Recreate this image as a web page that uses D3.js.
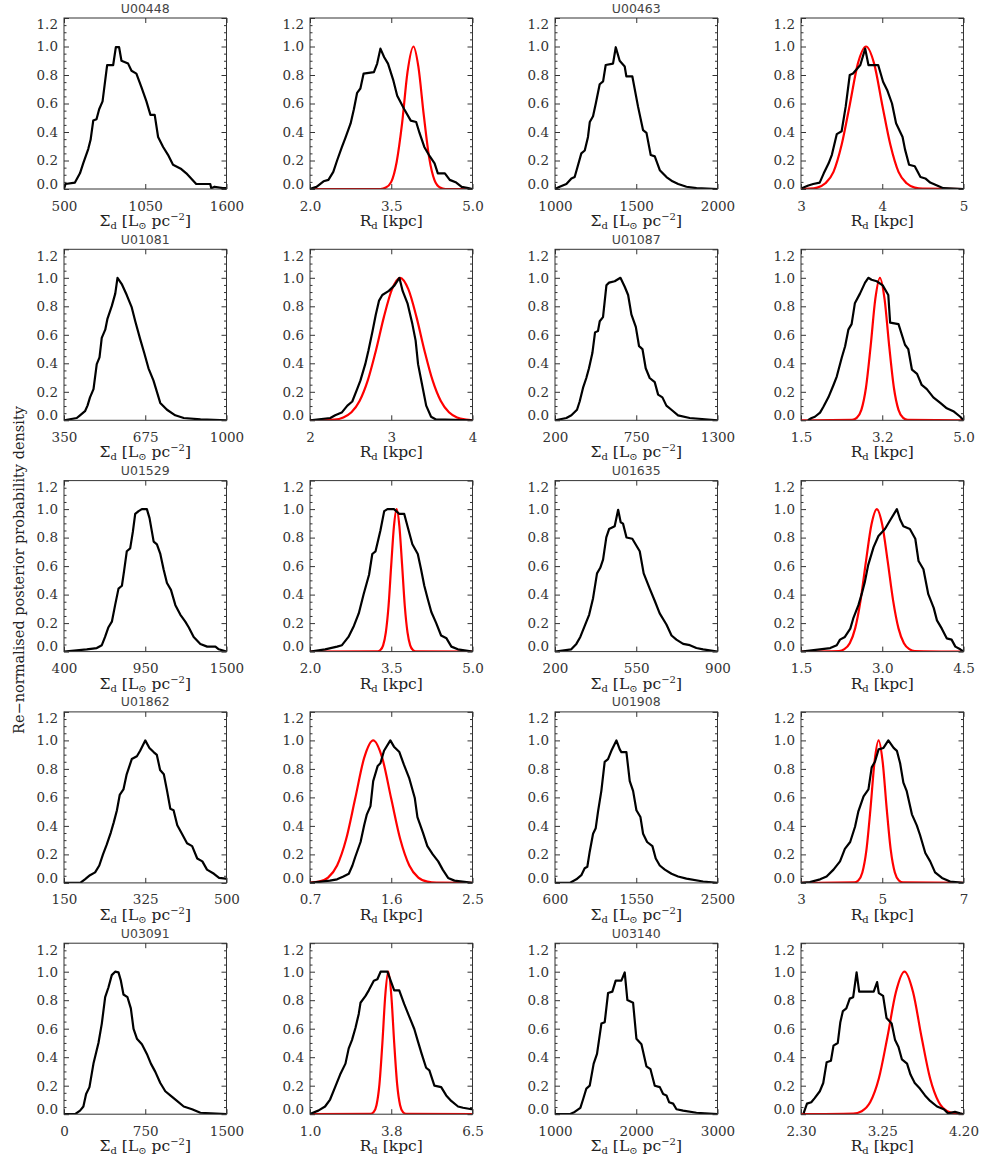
<!DOCTYPE html>
<html>
<head>
<meta charset="utf-8">
<script src="https://cdn.jsdelivr.net/npm/d3@7"></script>
<style>
  body { margin: 0; background: #fff; }
  svg { display: block; }
</style>
</head>
<body>
<div id="chart"></div>
<script>
// galaxies, one per row (Sigma_d panel + R_d panel)
const galaxies = ["U00448", "U00463", "U01081", "U01087", "U01529", "U01635", "U01862", "U01908", "U03091", "U03140"];

const sigmaDomains = [[500, 1600], [1000, 2000], [350, 1000], [200, 1300], [400, 1500], [200, 900], [150, 500], [600, 2500], [0, 1500], [1000, 3000]];
const sigmaTicks = [[500, 1050, 1600], [1000, 1500, 2000], [350, 675, 1000], [200, 750, 1300], [400, 950, 1500], [200, 550, 900], [150, 325, 500], [600, 1550, 2500], [0, 750, 1500], [1000, 2000, 3000]];
const sigmaTickLabels = [["500", "1050", "1600"], ["1000", "1500", "2000"], ["350", "675", "1000"], ["200", "750", "1300"], ["400", "950", "1500"], ["200", "550", "900"], ["150", "325", "500"], ["600", "1550", "2500"], ["0", "750", "1500"], ["1000", "2000", "3000"]];

const rdDomains = [[2, 5], [3, 5], [2, 4], [1.5, 5], [2, 5], [1.5, 4.5], [0.7, 2.5], [3, 7], [1, 6.5], [2.3, 4.2]];
const rdTicks = [[2, 3.5, 5], [3, 4, 5], [2, 3, 4], [1.5, 3.25, 5], [2, 3.5, 5], [1.5, 3, 4.5], [0.7, 1.6, 2.5], [3, 5, 7], [1, 3.75, 6.5], [2.3, 3.25, 4.2]];
const rdTickLabels = [["2.0", "3.5", "5.0"], ["3", "4", "5"], ["2", "3", "4"], ["1.5", "3.2", "5.0"], ["2.0", "3.5", "5.0"], ["1.5", "3.0", "4.5"], ["0.7", "1.6", "2.5"], ["3", "5", "7"], ["1.0", "3.8", "6.5"], ["2.30", "3.25", "4.20"]];

const yMajor = [0, 0.2, 0.4, 0.6, 0.8, 1.0, 1.2];
const yMinor = [0.05, 0.1, 0.15, 0.25, 0.3, 0.35, 0.45, 0.5, 0.55, 0.65, 0.7, 0.75, 0.85, 0.9, 0.95, 1.05, 1.1, 1.15];

// posterior of Sigma_d (black)
const sigU00448 = [[500,0],[510,0.035],[574,0.045],[608,0.11],[630,0.18],[664,0.28],[680,0.345],[698,0.48],[720,0.49],[738,0.56],[761,0.615],[792,0.87],[833,0.87],[851,0.995],[873,0.995],[889,0.9],[934,0.88],[957,0.83],[990,0.81],[1024,0.715],[1058,0.615],[1085,0.52],[1114,0.52],[1137,0.365],[1171,0.295],[1204,0.24],[1238,0.17],[1294,0.14],[1328,0.11],[1395,0.035],[1490,0.035],[1497,0.006],[1519,0.016],[1575,0.006],[1600,0.006]];
const sigU00463 = [[1000,0],[1029,0.016],[1070,0.035],[1101,0.074],[1121,0.084],[1135,0.14],[1162,0.25],[1183,0.27],[1203,0.365],[1214,0.47],[1234,0.51],[1251,0.6],[1275,0.735],[1296,0.755],[1312,0.87],[1357,0.88],[1374,0.995],[1398,0.9],[1429,0.86],[1439,0.79],[1476,0.79],[1511,0.578],[1542,0.413],[1563,0.394],[1589,0.239],[1614,0.229],[1645,0.132],[1686,0.084],[1723,0.054],[1758,0.035],[1809,0.016],[1871,0.006],[2000,0]];
const sigU01081 = [[350,0],[401,0.016],[414,0.035],[434,0.064],[444,0.103],[454,0.161],[468,0.219],[481,0.394],[492,0.442],[501,0.578],[515,0.636],[524,0.714],[541,0.801],[555,0.889],[564,1.0],[581,0.956],[601,0.879],[621,0.792],[635,0.695],[655,0.568],[671,0.472],[688,0.365],[708,0.278],[735,0.122],[762,0.074],[795,0.035],[829,0.016],[896,0.006],[1000,0]];
const sigU01087 = [[200,0],[277,0.016],[311,0.035],[349,0.074],[367,0.132],[390,0.229],[412,0.297],[430,0.365],[453,0.472],[471,0.617],[491,0.627],[503,0.695],[525,0.724],[548,0.947],[566,0.966],[604,0.976],[643,1.0],[672,0.937],[695,0.879],[717,0.743],[747,0.656],[769,0.52],[792,0.5],[814,0.365],[841,0.297],[875,0.268],[898,0.18],[927,0.161],[954,0.103],[988,0.074],[1033,0.035],[1112,0.016],[1300,0]];
const sigU01529 = [[400,0],[554,0.016],[622,0.025],[656,0.045],[678,0.103],[701,0.171],[724,0.21],[746,0.326],[769,0.442],[792,0.462],[807,0.568],[825,0.704],[848,0.724],[866,0.84],[882,0.966],[905,0.986],[927,1.0],[961,1.0],[979,0.937],[1007,0.772],[1029,0.753],[1052,0.685],[1074,0.578],[1097,0.481],[1124,0.433],[1154,0.326],[1188,0.258],[1221,0.21],[1244,0.171],[1278,0.103],[1323,0.054],[1369,0.035],[1425,0.035],[1448,0.016],[1500,0]];
const sigU01635 = [[200,0],[270,0.016],[292,0.054],[309,0.103],[328,0.18],[347,0.258],[364,0.375],[381,0.549],[395,0.588],[407,0.646],[421,0.801],[433,0.86],[457,0.879],[472,0.995],[483,0.908],[493,0.898],[508,0.801],[533,0.792],[565,0.704],[582,0.549],[608,0.442],[630,0.355],[651,0.268],[680,0.19],[702,0.113],[723,0.084],[752,0.054],[781,0.045],[809,0.025],[838,0.016],[900,0]];
const sigU01862 = [[150,0],[185,0],[195,0.025],[206,0.054],[217,0.074],[226,0.122],[234,0.2],[242,0.268],[251,0.355],[257,0.423],[264,0.51],[270,0.617],[278,0.656],[285,0.762],[296,0.869],[307,0.889],[314,0.927],[325,1.0],[334,0.947],[343,0.918],[350,0.898],[357,0.792],[365,0.762],[372,0.646],[379,0.52],[386,0.51],[394,0.404],[404,0.345],[415,0.278],[426,0.258],[437,0.171],[448,0.151],[458,0.093],[473,0.064],[484,0.035],[498,0.03],[500,0.03]];
const sigU01908 = [[600,0],[772,0],[850,0.025],[908,0.054],[947,0.103],[978,0.113],[1006,0.219],[1045,0.345],[1076,0.384],[1103,0.5],[1142,0.646],[1181,0.85],[1220,0.869],[1259,0.927],[1318,1.0],[1357,0.937],[1376,0.918],[1435,0.918],[1474,0.714],[1513,0.646],[1552,0.51],[1599,0.462],[1630,0.345],[1677,0.287],[1739,0.258],[1778,0.171],[1825,0.122],[1884,0.093],[1962,0.064],[2039,0.045],[2137,0.03],[2332,0.01],[2500,0]];
const sigU03091 = [[0,0],[102,0],[148,0.025],[179,0.054],[204,0.142],[235,0.19],[272,0.355],[318,0.5],[349,0.636],[380,0.821],[410,0.889],[441,0.976],[472,1.0],[503,0.995],[525,0.937],[549,0.84],[586,0.821],[617,0.743],[642,0.598],[673,0.53],[719,0.491],[765,0.423],[802,0.355],[843,0.297],[889,0.219],[935,0.161],[981,0.132],[1043,0.093],[1105,0.054],[1182,0.035],[1259,0.01],[1500,0]];
const sigU03140 = [[1000,0],[1181,0],[1242,0.016],[1312,0.045],[1345,0.103],[1386,0.18],[1427,0.2],[1476,0.355],[1517,0.423],[1571,0.636],[1612,0.646],[1653,0.85],[1706,0.86],[1747,0.937],[1817,0.937],[1858,0.995],[1891,0.801],[1961,0.782],[2002,0.53],[2064,0.491],[2125,0.336],[2175,0.316],[2228,0.2],[2290,0.19],[2331,0.142],[2372,0.132],[2404,0.084],[2454,0.074],[2495,0.035],[2577,0.025],[2741,0.01],[3000,0]];

// posterior of R_d (black)
const rdU00448 = [[2.0,0],[2.12,0.015],[2.25,0.054],[2.34,0.064],[2.43,0.12],[2.50,0.2],[2.59,0.295],[2.65,0.355],[2.75,0.46],[2.81,0.56],[2.87,0.675],[2.93,0.705],[2.99,0.81],[3.18,0.82],[3.24,0.88],[3.30,0.985],[3.37,0.925],[3.44,0.88],[3.54,0.76],[3.61,0.655],[3.74,0.56],[3.86,0.48],[3.96,0.47],[4.02,0.395],[4.11,0.295],[4.21,0.23],[4.30,0.18],[4.36,0.11],[4.49,0.11],[4.58,0.064],[4.70,0.045],[4.80,0.015],[4.92,0.006],[5.0,0]];
const rdU00463 = [[3.01,0.006],[3.09,0.025],[3.15,0.035],[3.23,0.045],[3.28,0.11],[3.34,0.18],[3.38,0.24],[3.44,0.385],[3.50,0.405],[3.55,0.578],[3.60,0.8],[3.64,0.81],[3.73,0.87],[3.79,0.985],[3.83,0.87],[3.95,0.87],[4.01,0.753],[4.06,0.695],[4.12,0.6],[4.17,0.462],[4.25,0.365],[4.28,0.278],[4.33,0.17],[4.40,0.16],[4.47,0.084],[4.53,0.074],[4.59,0.045],[4.71,0.016],[4.75,0.006],[5.0,0]];
const rdU01081 = [[2.0,0],[2.25,0.016],[2.31,0.035],[2.39,0.054],[2.46,0.103],[2.52,0.132],[2.58,0.219],[2.62,0.278],[2.68,0.394],[2.72,0.491],[2.77,0.627],[2.81,0.743],[2.85,0.84],[2.89,0.879],[2.97,0.908],[3.04,0.947],[3.10,1.0],[3.14,0.908],[3.20,0.821],[3.26,0.675],[3.30,0.559],[3.33,0.394],[3.37,0.278],[3.43,0.103],[3.49,0.025],[3.55,0.006],[4.0,0]];
const rdU01087 = [[1.65,0],[1.73,0.016],[1.80,0.025],[1.91,0.054],[1.98,0.093],[2.09,0.161],[2.20,0.248],[2.27,0.307],[2.38,0.442],[2.45,0.52],[2.52,0.636],[2.59,0.675],[2.66,0.821],[2.77,0.889],[2.88,0.966],[2.95,1.0],[3.02,0.986],[3.13,0.976],[3.26,0.947],[3.38,0.879],[3.42,0.685],[3.60,0.675],[3.74,0.53],[3.81,0.5],[3.89,0.355],[4.00,0.326],[4.10,0.248],[4.21,0.219],[4.35,0.161],[4.50,0.122],[4.64,0.084],[4.78,0.064],[4.93,0.025],[5.0,0]];
const rdU01529 = [[2.0,0],[2.28,0.016],[2.50,0.035],[2.59,0.045],[2.71,0.103],[2.81,0.18],[2.90,0.268],[2.99,0.403],[3.09,0.539],[3.15,0.685],[3.21,0.704],[3.30,0.85],[3.37,0.986],[3.43,1.0],[3.55,1.0],[3.65,0.966],[3.74,0.966],[3.80,0.879],[3.89,0.753],[3.99,0.685],[4.05,0.578],[4.11,0.462],[4.17,0.375],[4.24,0.278],[4.33,0.2],[4.42,0.113],[4.52,0.093],[4.61,0.035],[4.73,0.016],[5.0,0]];
const rdU01635 = [[1.5,0],[1.85,0.016],[2.04,0.025],[2.16,0.045],[2.22,0.084],[2.31,0.103],[2.41,0.161],[2.47,0.239],[2.56,0.326],[2.62,0.403],[2.68,0.491],[2.74,0.607],[2.84,0.733],[2.93,0.811],[3.05,0.86],[3.14,0.918],[3.27,1.0],[3.33,0.927],[3.39,0.879],[3.51,0.86],[3.61,0.792],[3.67,0.636],[3.76,0.578],[3.85,0.403],[3.95,0.307],[4.01,0.219],[4.10,0.161],[4.19,0.093],[4.28,0.084],[4.35,0.035],[4.44,0.016],[4.5,0]];
const rdU01862 = [[0.7,0],[0.92,0.016],[1.00,0.025],[1.07,0.045],[1.13,0.064],[1.17,0.122],[1.20,0.18],[1.26,0.287],[1.30,0.404],[1.33,0.481],[1.37,0.539],[1.40,0.714],[1.45,0.821],[1.48,0.84],[1.52,0.927],[1.59,1.0],[1.63,0.956],[1.69,0.918],[1.74,0.83],[1.80,0.733],[1.86,0.598],[1.89,0.462],[1.95,0.355],[2.00,0.258],[2.06,0.2],[2.12,0.151],[2.17,0.093],[2.23,0.035],[2.30,0.016],[2.5,0]];
const rdU01908 = [[3.0,0],[3.22,0.006],[3.47,0.025],[3.63,0.045],[3.80,0.093],[3.96,0.151],[4.08,0.239],[4.21,0.287],[4.33,0.394],[4.41,0.5],[4.54,0.607],[4.66,0.656],[4.74,0.811],[4.82,0.85],[4.91,0.937],[5.03,0.947],[5.15,1.0],[5.28,0.947],[5.36,0.927],[5.44,0.84],[5.52,0.704],[5.60,0.646],[5.73,0.481],[5.85,0.404],[5.93,0.336],[6.06,0.21],[6.18,0.151],[6.30,0.074],[6.47,0.035],[6.67,0.01],[7.0,0]];
const rdU03091 = [[1.0,0],[1.06,0.006],[1.28,0.025],[1.51,0.054],[1.68,0.103],[1.85,0.19],[2.02,0.278],[2.20,0.355],[2.31,0.462],[2.42,0.52],[2.54,0.607],[2.65,0.704],[2.71,0.782],[2.88,0.83],[2.99,0.869],[3.16,0.937],[3.28,0.947],[3.39,1.0],[3.62,1.0],[3.73,0.937],[3.85,0.869],[4.02,0.869],[4.19,0.772],[4.36,0.685],[4.53,0.598],[4.64,0.52],[4.78,0.423],[4.93,0.326],[5.04,0.307],[5.21,0.2],[5.44,0.19],[5.61,0.132],[5.78,0.093],[6.01,0.054],[6.18,0.045],[6.47,0.035],[6.5,0.035]];
const rdU03140 = [[2.33,0.006],[2.37,0.074],[2.42,0.084],[2.46,0.113],[2.52,0.161],[2.56,0.219],[2.60,0.365],[2.65,0.375],[2.68,0.481],[2.73,0.5],[2.76,0.646],[2.79,0.724],[2.83,0.743],[2.87,0.811],[2.91,0.821],[2.95,0.995],[2.98,0.86],[3.15,0.86],[3.19,0.927],[3.21,0.85],[3.26,0.83],[3.30,0.675],[3.36,0.636],[3.40,0.52],[3.44,0.472],[3.48,0.384],[3.54,0.355],[3.58,0.278],[3.63,0.219],[3.69,0.18],[3.75,0.132],[3.81,0.093],[3.89,0.054],[3.97,0.035],[4.02,0.006],[4.10,0.016],[4.16,0.006],[4.2,0]];

// comparison R_d distribution (red)
const fitU00448 = [[2.0,0],[3.3,0],[3.4,0.01],[3.5,0.05],[3.6,0.19],[3.7,0.46],[3.8,0.82],[3.91,1.0],[4.0,0.86],[4.1,0.52],[4.2,0.22],[4.3,0.06],[4.4,0.01],[4.5,0],[5.0,0]];
const fitU00463 = [[3.0,0],[3.1,0.002],[3.2,0.01],[3.3,0.04],[3.4,0.12],[3.5,0.31],[3.6,0.59],[3.7,0.88],[3.8,1.0],[3.9,0.88],[4.0,0.59],[4.1,0.31],[4.2,0.12],[4.3,0.04],[4.4,0.01],[4.5,0.002],[5.0,0]];
const fitU01081 = [[2.0,0],[2.3,0.005],[2.41,0.02],[2.51,0.056],[2.61,0.135],[2.71,0.278],[2.81,0.487],[2.91,0.726],[3.01,0.92],[3.11,1.0],[3.21,0.92],[3.31,0.726],[3.41,0.487],[3.51,0.278],[3.61,0.135],[3.71,0.056],[3.81,0.02],[3.92,0.005],[4.0,0]];
const fitU01087 = [[1.5,0],[2.6,0.003],[2.7,0.017],[2.8,0.073],[2.9,0.23],[3.0,0.52],[3.1,0.85],[3.2,1.0],[3.3,0.85],[3.4,0.52],[3.5,0.23],[3.6,0.073],[3.7,0.017],[3.8,0.003],[5.0,0]];
const fitU01529 = [[2.0,0],[3.25,0.002],[3.3,0.011],[3.35,0.044],[3.4,0.135],[3.45,0.32],[3.5,0.61],[3.55,0.88],[3.6,1.0],[3.65,0.88],[3.7,0.61],[3.75,0.32],[3.8,0.135],[3.85,0.044],[3.9,0.011],[3.95,0.002],[5.0,0]];
const fitU01635 = [[1.5,0],[2.2,0.004],[2.3,0.017],[2.4,0.059],[2.5,0.163],[2.6,0.36],[2.7,0.635],[2.8,0.89],[2.9,1.0],[3.0,0.89],[3.1,0.635],[3.2,0.36],[3.3,0.163],[3.4,0.059],[3.5,0.017],[3.6,0.004],[4.5,0]];
const fitU01862 = [[0.7,0.002],[0.8,0.009],[0.9,0.037],[1.0,0.122],[1.1,0.306],[1.2,0.59],[1.3,0.877],[1.4,1.0],[1.5,0.877],[1.6,0.59],[1.7,0.306],[1.8,0.122],[1.9,0.037],[2.0,0.009],[2.1,0.002],[2.5,0]];
const fitU01908 = [[3.0,0],[4.31,0.003],[4.41,0.017],[4.51,0.073],[4.61,0.23],[4.71,0.52],[4.81,0.85],[4.91,1.0],[5.01,0.85],[5.11,0.52],[5.21,0.23],[5.31,0.073],[5.41,0.017],[5.51,0.003],[7.0,0]];
const fitU03091 = [[1.0,0],[3.05,0.002],[3.15,0.013],[3.25,0.063],[3.35,0.21],[3.45,0.5],[3.55,0.84],[3.65,1.0],[3.75,0.84],[3.85,0.5],[3.95,0.21],[4.05,0.063],[4.15,0.013],[4.25,0.002],[6.5,0]];
const fitU03140 = [[2.3,0],[2.91,0.004],[3.01,0.021],[3.11,0.085],[3.21,0.25],[3.31,0.54],[3.41,0.857],[3.51,1.0],[3.61,0.857],[3.71,0.54],[3.81,0.25],[3.91,0.085],[4.01,0.021],[4.11,0.004],[4.2,0]];

const sigmaCurves = [sigU00448, sigU00463, sigU01081, sigU01087, sigU01529, sigU01635, sigU01862, sigU01908, sigU03091, sigU03140];
const rdCurves = [rdU00448, rdU00463, rdU01081, rdU01087, rdU01529, rdU01635, rdU01862, rdU01908, rdU03091, rdU03140];
const fitCurves = [fitU00448, fitU00463, fitU01081, fitU01087, fitU01529, fitU01635, fitU01862, fitU01908, fitU03091, fitU03140];

const W = 981, H = 1154;
const colLeft = [64, 310, 555, 801];
const rowTop = 18, rowStep = 231.3;
const pw = 162.5, ph = 171;
const tickFont = "'DejaVu Serif', serif";

const svg = d3.select("#chart").append("svg")
  .attr("width", W).attr("height", H)
  .style("background", "#fff");

// y-axis title
svg.append("text")
  .attr("transform", "translate(24,570) rotate(-90)")
  .attr("text-anchor", "middle")
  .style("font-family", tickFont)
  .style("font-size", "14.5px")
  .style("fill", "#222")
  .text("Re\u2212normalised posterior probability density");

function xLabel(g, kind) {
  const t = g.append("text")
    .attr("x", pw / 2).attr("y", ph + 37)
    .attr("text-anchor", "middle")
    .style("font-family", tickFont)
    .style("font-size", "15.5px")
    .style("fill", "#222");
  if (kind === "sigma") {
    t.append("tspan").text("\u03a3");
    t.append("tspan").attr("dy", 3).style("font-size", "10px").text("d");
    t.append("tspan").attr("dy", -3).text(" [L");
    t.append("tspan").attr("dy", 3).style("font-size", "10px").text("\u2299");
    t.append("tspan").attr("dy", -3).text(" pc");
    t.append("tspan").attr("dy", -6).style("font-size", "10px").text("\u22122");
    t.append("tspan").attr("dy", 6).text("]");
  } else {
    t.append("tspan").text("R");
    t.append("tspan").attr("dy", 3).style("font-size", "10px").text("d");
    t.append("tspan").attr("dy", -3).text(" [kpc]");
  }
}

let clipId = 0;
function drawPanel(x0, y0, domain, ticks, labels, black, red, kind, title) {
  const g = svg.append("g").attr("transform", "translate(" + x0 + "," + y0 + ")");
  const x = d3.scaleLinear().domain(domain).range([0, pw]);
  const y = d3.scaleLinear().domain([0, 1.2]).range([ph, 0]);

  // left axis with labels
  const yl = g.append("g").call(d3.axisLeft(y).tickValues(yMajor).tickSize(-5).tickSizeOuter(0)
    .tickPadding(6).tickFormat(d3.format(".1f")));
  yl.selectAll("text").attr("dy", d => d === 0 ? "-0.05em" : d === 1.2 ? "0.8em" : "0.32em");
  g.append("g").call(d3.axisLeft(y).tickValues(yMinor).tickSize(-2.5).tickSizeOuter(0).tickFormat(""));
  // right axis
  g.append("g").attr("transform", "translate(" + pw + ",0)")
    .call(d3.axisRight(y).tickValues(yMajor).tickSize(-5).tickSizeOuter(0).tickFormat(""));
  g.append("g").attr("transform", "translate(" + pw + ",0)")
    .call(d3.axisRight(y).tickValues(yMinor).tickSize(-2.5).tickSizeOuter(0).tickFormat(""));
  // bottom and top axes
  g.append("g").attr("transform", "translate(0," + ph + ")")
    .call(d3.axisBottom(x).tickValues(ticks).tickSize(-5).tickSizeOuter(0)
      .tickPadding(12).tickFormat((d, i) => labels[i]));
  g.append("g").call(d3.axisTop(x).tickValues(ticks).tickSize(-5).tickSizeOuter(0).tickFormat(""));

  g.selectAll(".domain").remove();
  g.selectAll(".tick line").attr("stroke", "#333");
  g.selectAll(".tick text")
    .style("font-family", tickFont)
    .style("font-size", "13.5px")
    .style("fill", "#333");

  const id = "clip" + (clipId++);
  g.append("clipPath").attr("id", id)
    .append("rect").attr("width", pw).attr("height", ph);

  const line = d3.line().x(d => x(d[0])).y(d => y(d[1]));
  if (red) {
    g.append("path").datum(red)
      .attr("clip-path", "url(#" + id + ")")
      .attr("fill", "none").attr("stroke", "#ff0000").attr("stroke-width", 2.2)
      .attr("d", d3.line().x(d => x(d[0])).y(d => y(d[1])).curve(d3.curveMonotoneX));
  }
  g.append("path").datum(black)
    .attr("clip-path", "url(#" + id + ")")
    .attr("fill", "none").attr("stroke", "#000").attr("stroke-width", 2.2)
    .attr("stroke-linejoin", "round")
    .attr("d", line);

  g.append("rect").attr("width", pw).attr("height", ph)
    .attr("fill", "none").attr("stroke", "#333").attr("stroke-width", 1);

  xLabel(g, kind);

  if (title) {
    g.append("text")
      .attr("x", pw / 2).attr("y", -5.5)
      .attr("text-anchor", "middle")
      .style("font-family", "'DejaVu Sans', sans-serif")
      .style("font-size", "12.5px")
      .style("fill", "#444")
      .text(title);
  }
}

galaxies.forEach((name, i) => {
  const row = Math.floor(i / 2);
  const c = (i % 2) * 2;
  const top = rowTop + row * rowStep;
  drawPanel(colLeft[c], top, sigmaDomains[i], sigmaTicks[i], sigmaTickLabels[i],
    sigmaCurves[i], null, "sigma", name);
  drawPanel(colLeft[c + 1], top, rdDomains[i], rdTicks[i], rdTickLabels[i],
    rdCurves[i], fitCurves[i], "rd", null);
});
</script>
</body>
</html>
